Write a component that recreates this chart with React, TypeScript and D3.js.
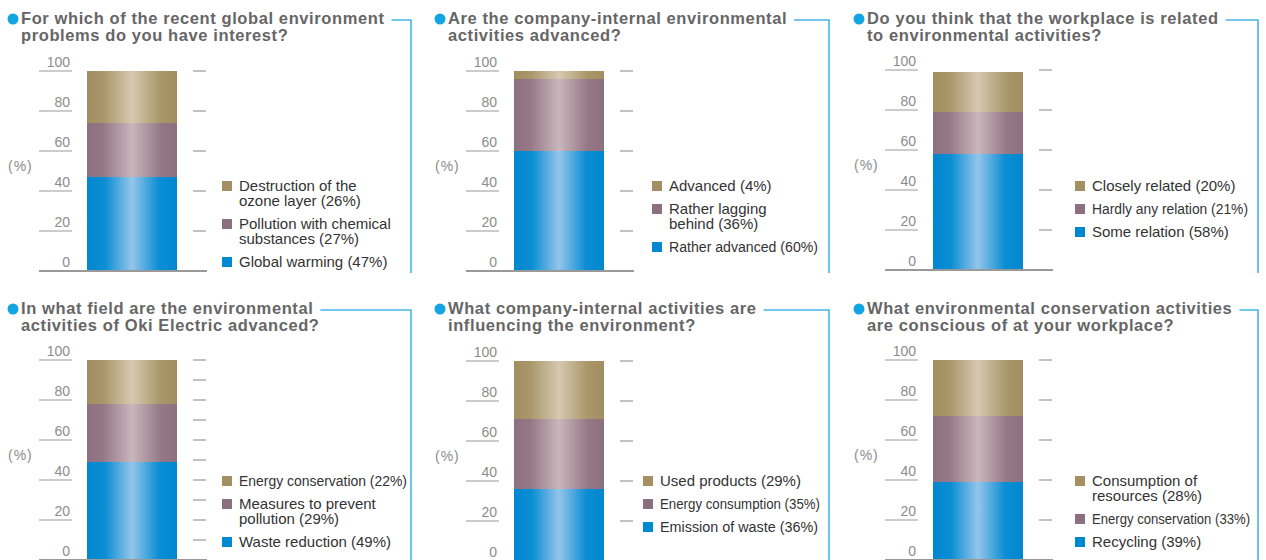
import React, { useEffect, useRef } from "react";
import * as d3 from "d3";

const W = 1266;
const H = 560;

// ---- data (each series listed bottom of stack -> top of stack) ----
const titles: string[][] = [
  ["For which of the recent global environment", "problems do you have interest?"],
  ["Are the company-internal environmental", "activities advanced?"],
  ["Do you think that the workplace is related", "to environmental activities?"],
  ["In what field are the environmental", "activities of Oki Electric advanced?"],
  ["What company-internal activities are", "influencing the environment?"],
  ["What environmental conservation activities", "are conscious of at your workplace?"],
];

const q1Labels = ["Global warming", "Pollution with chemical\nsubstances", "Destruction of the\nozone layer"];
const q1Values = [47, 27, 26];
const q2Labels = ["Rather advanced", "Rather lagging\nbehind", "Advanced"];
const q2Values = [60, 36, 4];
const q3Labels = ["Some relation", "Hardly any relation", "Closely related"];
const q3Values = [58, 21, 20];
const q4Labels = ["Waste reduction", "Measures to prevent\npollution", "Energy conservation"];
const q4Values = [49, 29, 22];
const q5Labels = ["Emission of waste", "Energy consumption", "Used products"];
const q5Values = [36, 35, 29];
const q6Labels = ["Recycling", "Energy conservation", "Consumption of\nresources"];
const q6Values = [39, 33, 28];

const yTicks = [0, 20, 40, 60, 80, 100];
const rightTicksStd = [20, 40, 60, 80, 100];
const rightTicksFine = [10, 20, 30, 40, 50, 60, 70, 80, 90, 100];

const panelLabels = [q1Labels, q2Labels, q3Labels, q4Labels, q5Labels, q6Labels];
const panelValues = [q1Values, q2Values, q3Values, q4Values, q5Values, q6Values];
const panelRightTicks = [rightTicksStd, rightTicksStd, rightTicksStd, rightTicksFine, rightTicksStd, rightTicksStd];

// ---- layout / style ----
const layout = [
  { x: 0, row: 0, yTop: 71, lx: 222, vx: 411, legY: 191 },
  { x: 427, row: 0, yTop: 71, lx: 225, vx: 829, legY: 191 },
  { x: 846, row: 0, yTop: 70, lx: 229, vx: 1258, legY: 191 },
  { x: 0, row: 290, yTop: 360, lx: 222, vx: 411, legY: 486 },
  { x: 427, row: 290, yTop: 361, lx: 216, vx: 829, legY: 486 },
  { x: 846, row: 290, yTop: 360, lx: 229, vx: 1258, legY: 486 },
];
const fitWidths: Record<string, number> = {
  "Hardly any relation (21%)": 156,
  "Energy consumption (35%)": 160,
  "Energy conservation (33%)": 158,
  "Energy conservation (22%)": 168,
  "Rather advanced (60%)": 149,
  "Emission of waste (36%)": 158,
};
const gradIds = ["gBlue", "gPurple", "gTan"];
const swatch = ["#0088d1", "#8d7080", "#a38f62"];
const gradStops = [
  [["0", "#0087d0"], ["0.2", "#0b8ed3"], ["0.5", "#94c5ea"], ["0.8", "#0b8ed3"], ["1", "#0087d0"]],
  [["0", "#8e7080"], ["0.18", "#957886"], ["0.5", "#c9b6bc"], ["0.82", "#957886"], ["1", "#8e7080"]],
  [["0", "#a28e60"], ["0.18", "#a99669"], ["0.5", "#d6c8b0"], ["0.82", "#a99669"], ["1", "#a28e60"]],
];
const FONT = "'Liberation Sans', Arial, Helvetica, sans-serif";
const BLUE_LINE = "#45b7e8";

export default function App() {
  const ref = useRef<SVGSVGElement>(null);

  useEffect(() => {
    const svg = d3.select(ref.current);
    svg.selectAll("*").remove();
    svg.append("rect").attr("width", W).attr("height", H).attr("fill", "#fff");

    const defs = svg.append("defs");
    gradIds.forEach((id, i) => {
      const lg = defs.append("linearGradient").attr("id", id).attr("x1", 0).attr("x2", 1).attr("y1", 0).attr("y2", 0);
      gradStops[i].forEach(([o, c]) => lg.append("stop").attr("offset", o).attr("stop-color", c));
    });

    layout.forEach((L, i) => {
      const g = svg.append("g").attr("transform", `translate(${L.x},0)`).style("font-family", FONT);
      const y = d3.scaleLinear().domain([0, 100]).range([L.yTop + 200, L.yTop]);
      const xb = d3.scaleBand().domain(["all"]).range([87, 177]).padding(0);

      // title
      g.append("circle").attr("cx", 13).attr("cy", L.row + 19).attr("r", 5.5).attr("fill", "#13a4e2");
      const t1 = g.append("text").attr("x", 21).attr("y", L.row + 24)
        .attr("font-size", 16.5).attr("font-weight", "bold").attr("fill", "#666")
        .attr("letter-spacing", 0.6).text(titles[i][0]);
      g.append("text").attr("x", 21).attr("y", L.row + 41)
        .attr("font-size", 16.5).attr("font-weight", "bold").attr("fill", "#666")
        .attr("letter-spacing", 0.6).text(titles[i][1]);
      const tw = (t1.node() as SVGTextElement).getBBox().width;
      const hx = 21 + tw + 7;
      const vxRel = L.vx - L.x;
      g.append("path")
        .attr("d", `M${hx},${L.row + 20}H${vxRel}V${L.row === 0 ? 273 : 560}`)
        .attr("fill", "none").attr("stroke", BLUE_LINE).attr("stroke-width", 1.6);

      // left axis
      yTicks.forEach((v) => {
        if (v > 0) {
          g.append("line").attr("x1", 39).attr("x2", 72).attr("y1", y(v)).attr("y2", y(v))
            .attr("stroke", "#999").attr("stroke-width", 1.2);
        }
        g.append("text").attr("x", 70).attr("y", y(v) - 4).attr("text-anchor", "end")
          .attr("font-size", 14).attr("fill", "#8c8c8c").text(String(v));
      });
      g.append("text").attr("x", 8).attr("y", L.yTop + 100).attr("font-size", 14)
        .attr("fill", "#8c8c8c").attr("letter-spacing", 1).text("(%)");

      // right ticks
      panelRightTicks[i].forEach((v) => {
        g.append("line").attr("x1", 193).attr("x2", 206).attr("y1", y(v)).attr("y2", y(v))
          .attr("stroke", "#999").attr("stroke-width", 1.2);
      });

      // stacked bar
      const vals = panelValues[i];
      const row: Record<string, number> = {};
      vals.forEach((v, j) => (row["s" + j] = v));
      const stacked = d3.stack<Record<string, number>>().keys(vals.map((_, j) => "s" + j))([row]);
      stacked.forEach((layer, j) => {
        const [y0, y1] = layer[0];
        g.append("rect").attr("x", xb("all")!).attr("width", xb.bandwidth())
          .attr("y", y(y1)).attr("height", y(y0) - y(y1))
          .attr("fill", `url(#${gradIds[j]})`);
      });

      // baseline
      g.append("line").attr("x1", 39).attr("x2", 207).attr("y1", y(0)).attr("y2", y(0))
        .attr("stroke", "#999").attr("stroke-width", 2);

      // legend (top of stack first)
      const labels = panelLabels[i];
      let by = L.legY;
      for (let j = labels.length - 1; j >= 0; j--) {
        const lines = labels[j].split("\n");
        lines[lines.length - 1] += ` (${vals[j]}%)`;
        g.append("rect").attr("x", L.lx).attr("y", by - 10).attr("width", 10).attr("height", 10)
          .attr("fill", swatch[j]);
        lines.forEach((ln, k) => {
          const t = g.append("text").attr("x", L.lx + 17).attr("y", by + k * 15)
            .attr("font-size", fitWidths[ln] ? 14 : 15).attr("fill", "#333").text(ln);
          if (fitWidths[ln]) t.attr("textLength", fitWidths[ln]).attr("lengthAdjust", "spacingAndGlyphs");
        });
        by += (lines.length - 1) * 15 + 23;
      }
    });
  }, []);

  return (
    <svg ref={ref} width={W} height={H} style={{ position: "absolute", left: 0, top: 0, display: "block" }} />
  );
}
